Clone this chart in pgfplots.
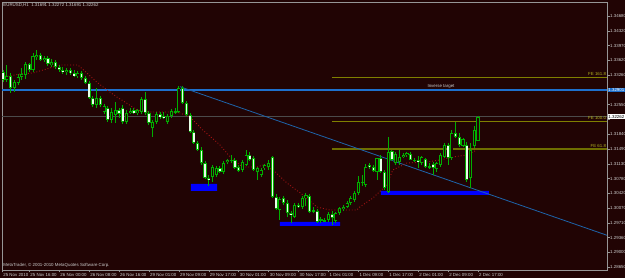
\documentclass[border=0pt]{standalone}
\usepackage{pgfplots}
\pgfplotsset{compat=1.18}
\usepackage{pgfplotstable}
\usepackage{fontspec}
\setmainfont{Liberation Sans}
\definecolor{bg}{RGB}{33,4,4}
\definecolor{axisgray}{RGB}{150,150,150}
\definecolor{cgreen}{RGB}{0,175,0}
\definecolor{bearfill}{RGB}{232,255,232}
\definecolor{trend}{RGB}{30,100,170}
\definecolor{invblue}{RGB}{30,112,205}
\definecolor{olive1}{RGB}{128,128,0}
\definecolor{olive2}{RGB}{110,110,0}
\definecolor{olivetext}{RGB}{175,175,30}
\definecolor{pricegray}{RGB}{75,75,75}
\definecolor{madot}{RGB}{165,20,20}
\definecolor{rectblue}{RGB}{0,0,255}
\definecolor{txt}{RGB}{205,205,205}
\newcommand{\mtfont}{\fontsize{4.4}{5}\selectfont}

\pgfplotstableread{
i O H L C
1 1.33336 1.33384 1.33096 1.33144
2 1.33144 1.33504 1.33096 1.33240
3 1.33240 1.33312 1.32832 1.32952
4 1.32952 1.33144 1.32856 1.33096
5 1.33072 1.33288 1.33024 1.33216
6 1.33216 1.33432 1.33144 1.33288
7 1.33264 1.33576 1.33168 1.33528
8 1.33528 1.33552 1.33336 1.33384
9 1.33384 1.33792 1.33336 1.33720
10 1.33696 1.33864 1.33624 1.33744
11 1.33744 1.33792 1.33600 1.33624
12 1.33624 1.33720 1.33576 1.33672
13 1.33672 1.33720 1.33480 1.33528
14 1.33504 1.33648 1.33456 1.33576
15 1.33576 1.33624 1.33408 1.33456
16 1.33456 1.33504 1.33336 1.33384
17 1.33384 1.33456 1.33288 1.33336
18 1.33336 1.33432 1.33264 1.33384
19 1.33384 1.33432 1.33264 1.33312
20 1.33312 1.33384 1.33216 1.33240
21 1.33240 1.33360 1.33192 1.33312
22 1.33312 1.33360 1.33144 1.33192
23 1.33192 1.33240 1.33048 1.33072
24 1.33072 1.33120 1.32688 1.32712
25 1.32712 1.32760 1.32496 1.32544
26 1.32544 1.32952 1.32472 1.32712
27 1.32712 1.32760 1.32496 1.32544
28 1.32376 1.32568 1.32328 1.32520
29 1.32472 1.32520 1.32136 1.32184
30 1.32184 1.32472 1.32112 1.32376
31 1.32304 1.32616 1.32112 1.32424
32 1.32424 1.32472 1.32232 1.32328
33 1.32472 1.32544 1.32088 1.32136
34 1.32136 1.32424 1.32088 1.32352
35 1.32352 1.32472 1.32328 1.32400
36 1.32424 1.32472 1.32328 1.32352
37 1.32352 1.32448 1.32304 1.32424
38 1.32376 1.32736 1.32328 1.32688
39 1.32688 1.32856 1.32304 1.32352
40 1.32352 1.32400 1.32064 1.32112
41 1.31992 1.32184 1.31776 1.32136
42 1.32136 1.32376 1.32088 1.32328
43 1.32328 1.32376 1.32208 1.32256
44 1.32280 1.32376 1.32208 1.32232
45 1.32136 1.32328 1.32088 1.32280
46 1.32280 1.32448 1.32232 1.32400
47 1.32400 1.32472 1.32328 1.32376
48 1.32376 1.33000 1.32352 1.32952
49 1.32952 1.33000 1.32568 1.32592
50 1.32592 1.32640 1.32280 1.32304
51 1.32304 1.32352 1.31872 1.31896
52 1.31896 1.31944 1.31608 1.31632
53 1.31632 1.31680 1.31440 1.31464
54 1.31464 1.31536 1.31104 1.31152
55 1.31152 1.31200 1.30768 1.30792
56 1.30792 1.30864 1.30600 1.30744
57 1.30816 1.31104 1.30696 1.31056
58 1.30864 1.31080 1.30816 1.31032
59 1.31032 1.31080 1.30912 1.30936
60 1.30936 1.31200 1.30888 1.31152
61 1.31176 1.31248 1.31128 1.31224
62 1.31200 1.31344 1.31152 1.31224
63 1.31224 1.31272 1.31008 1.31032
64 1.31056 1.31104 1.30936 1.30960
65 1.30984 1.31224 1.30936 1.31176
66 1.31104 1.31464 1.31080 1.31344
67 1.31344 1.31416 1.31200 1.31224
68 1.31272 1.31320 1.30960 1.30984
69 1.30936 1.31056 1.30744 1.31032
70 1.30864 1.31032 1.30816 1.30984
71 1.31032 1.31128 1.30984 1.31104
72 1.31056 1.31224 1.30984 1.31152
73 1.31296 1.31320 1.30312 1.30336
74 1.30336 1.30408 1.30024 1.30048
75 1.30024 1.30336 1.29784 1.30288
76 1.30312 1.30360 1.30144 1.30192
77 1.30192 1.30264 1.29856 1.29952
78 1.29952 1.30000 1.29712 1.29904
79 1.29856 1.30192 1.29832 1.30144
80 1.30144 1.30192 1.30072 1.30096
81 1.30096 1.30360 1.30048 1.30312
82 1.30312 1.30432 1.30120 1.30384
83 1.30360 1.30408 1.29952 1.29976
84 1.30024 1.30096 1.29952 1.30000
85 1.30000 1.30048 1.29712 1.29736
86 1.29784 1.29856 1.29712 1.29784
87 1.29784 1.29832 1.29736 1.29760
88 1.29784 1.29976 1.29736 1.29928
89 1.29928 1.30000 1.29664 1.29832
90 1.29760 1.29976 1.29712 1.29952
91 1.29952 1.30096 1.29904 1.30072
92 1.30048 1.30144 1.30000 1.30096
93 1.30096 1.30240 1.30072 1.30192
94 1.30192 1.30360 1.30144 1.30312
95 1.30264 1.30480 1.30216 1.30432
96 1.30432 1.30840 1.30384 1.30696
97 1.30696 1.30864 1.30600 1.30672
98 1.30624 1.31128 1.30576 1.31056
99 1.31104 1.31152 1.31008 1.31056
100 1.31056 1.31104 1.30936 1.30960
101 1.30936 1.31272 1.30744 1.31272
102 1.31272 1.31344 1.30912 1.30936
103 1.30936 1.30984 1.30504 1.30552
104 1.30456 1.31776 1.30432 1.31416
105 1.31440 1.31464 1.31200 1.31224
106 1.31152 1.31416 1.31104 1.31368
107 1.31176 1.31464 1.31104 1.31296
108 1.31296 1.31392 1.31272 1.31344
109 1.31344 1.31416 1.31296 1.31392
110 1.31368 1.31416 1.31224 1.31224
111 1.31224 1.31272 1.31176 1.31200
112 1.31224 1.31320 1.31032 1.31176
113 1.31152 1.31320 1.31104 1.31296
114 1.31248 1.31272 1.31032 1.31056
115 1.31080 1.31152 1.31008 1.31056
116 1.31128 1.31176 1.30864 1.31032
117 1.31008 1.31176 1.30936 1.31152
118 1.31104 1.31392 1.31056 1.31344
119 1.31296 1.31632 1.31272 1.31584
120 1.31584 1.31632 1.31104 1.31272
121 1.31272 1.31944 1.31224 1.31872
122 1.31872 1.32136 1.31752 1.31776
123 1.31776 1.31872 1.31536 1.31584
124 1.31560 1.31752 1.31536 1.31728
125 1.31584 1.31656 1.30696 1.30744
126 1.30792 1.31632 1.30552 1.31464
127 1.31560 1.32040 1.31512 1.31944
128 1.31691 1.32272 1.31691 1.32262
}\candles

\begin{document}
\begin{tikzpicture}
\useasboundingbox (0,0) rectangle (625pt,278pt);
\fill[bg] (0,0) rectangle (625pt,278pt);
\begin{axis}[
  at={(2pt,8pt)}, anchor=south west,
  scale only axis, width=605pt, height=268pt,
  xmin=0.7, xmax=162.5, ymin=1.28584, ymax=1.35016,
  clip=false,
  axis line style={draw=axisgray, line width=0.7pt},
  tick style={draw=axisgray, line width=0.5pt},
  tick align=outside, major tick length=2.5pt,
  xtick pos=left, ytick pos=right, yticklabel pos=right,
  xtick={0.75,8,16,24,32,40,48,56,64,72,80,88,96,104,112,120,128},
  xticklabels={25 Nov 2010,25 Nov 16:00,26 Nov 00:00,26 Nov 08:00,26 Nov 16:00,29 Nov 01:00,29 Nov 09:00,29 Nov 17:00,30 Nov 01:00,30 Nov 09:00,30 Nov 17:00,1 Dec 01:00,1 Dec 09:00,1 Dec 17:00,2 Dec 01:00,2 Dec 09:00,2 Dec 17:00},
  ytick={1.34680,1.34325,1.33970,1.33616,1.33261,1.32906,1.32552,1.32197,1.31842,1.31488,1.31133,1.30778,1.30424,1.30069,1.29714,1.29360,1.29005,1.28650},
  yticklabels={1.34680,1.34320,1.33970,1.33620,1.33260,,1.32550,,1.31840,1.31490,1.31130,1.30780,1.30420,1.30070,1.29710,1.29360,1.29000,1.28650},
  tick label style={font=\mtfont, text=txt},
  xticklabel style={anchor=north west, inner sep=0pt, xshift=1pt, yshift=-0.5pt},
  yticklabel style={anchor=west, inner sep=0pt, xshift=0.5pt},
]
% blue rectangles
\addplot[draw=none, fill=rectblue, forget plot] coordinates {(51.2,1.30648) (58.2,1.30648) (58.2,1.30480) (51.2,1.30480) (51.2,1.30648)};
\addplot[draw=none, fill=rectblue, forget plot] coordinates {(75.0,1.29736) (91.1,1.29736) (91.1,1.29640) (75.0,1.29640) (75.0,1.29736)};
\addplot[draw=none, fill=rectblue, forget plot] coordinates {(102.0,1.30480) (130.9,1.30480) (130.9,1.30384) (102.0,1.30384) (102.0,1.30480)};
% horizontal lines
\addplot[pricegray, line width=0.8pt, forget plot] coordinates {(0.7,1.32262) (162.5,1.32262)};
\addplot[olive1, line width=0.9pt, forget plot] coordinates {(88.9,1.33216) (162.5,1.33216)};
\addplot[olive1, line width=0.9pt, forget plot] coordinates {(88.9,1.32160) (162.5,1.32160)};
\addplot[olive2, line width=1.7pt, forget plot] coordinates {(88.9,1.31494) (162.5,1.31494)};
\addplot[invblue, line width=1.6pt, forget plot] coordinates {(0.7,1.32904) (162.5,1.32904)};
% trendline
\addplot[trend, line width=0.8pt, forget plot] coordinates {(48.3,1.32983) (162.5,1.29417)};
% moving average
\addplot[madot, line width=0.9pt, dotted, forget plot] coordinates {
(0.7,1.33240) (2.8,1.33240) (5.5,1.33288) (9,1.33312) (13.5,1.33432) (16.2,1.33504) (21,1.33504)
(23.4,1.33312) (26,1.33096) (28.8,1.32904) (31.4,1.32736) (34,1.32592) (36.8,1.32424) (40.3,1.32376)
(46.4,1.32376) (48.3,1.32352) (51,1.32256) (54.4,1.31944) (59,1.31584) (61.7,1.31296) (65.1,1.31056)
(68.9,1.31056) (70.5,1.31104) (73.2,1.30984) (76.9,1.30672) (81.2,1.30384) (84.9,1.30096) (88.4,1.30024)
(95.6,1.30024) (96.4,1.30096) (99.9,1.30312) (103.6,1.30624) (105.2,1.30984) (109,1.31152) (114.3,1.31176)
(117.8,1.31224) (121.3,1.31296) (125,1.31344) (127.7,1.31464)};
% wicks
\addplot[draw=none, mark=none, forget plot, error bars/.cd, y dir=both, y explicit, error mark=none,
  error bar style={draw=cgreen, line width=1pt}]
  table[x=i, y expr={(\thisrow{H}+\thisrow{L})/2}, y error expr={(\thisrow{H}-\thisrow{L})/2}] {\candles};
% body outlines
\addplot[draw=none, mark=none, forget plot, error bars/.cd, y dir=both, y explicit, error mark=none,
  error bar style={draw=cgreen, line width=3.1pt}]
  table[x=i, y expr={(\thisrow{O}+\thisrow{C})/2}, y error expr={max(abs(\thisrow{O}-\thisrow{C})/2,0.00012)}] {\candles};
% bear bodies
\addplot[draw=none, mark=none, forget plot, error bars/.cd, y dir=both, y explicit, error mark=none,
  error bar style={draw=bearfill, line width=1.5pt}]
  table[x=i, y expr={(\thisrow{O}+\thisrow{C})/2}, y error expr={ifthenelse(\thisrow{O}>\thisrow{C}, max((\thisrow{O}-\thisrow{C})/2-0.00019,0), 0)}] {\candles};
% bull bodies
\addplot[draw=none, mark=none, forget plot, error bars/.cd, y dir=both, y explicit, error mark=none,
  error bar style={draw=bg, line width=1.4pt}]
  table[x=i, y expr={(\thisrow{O}+\thisrow{C})/2}, y error expr={ifthenelse(\thisrow{C}>\thisrow{O}, max((\thisrow{C}-\thisrow{O})/2-0.00019,0), 0)}] {\candles};
% texts
\node[anchor=north west, inner sep=0pt, text=txt, font=\mtfont] at (rel axis cs:0,1) [xshift=1.2pt, yshift=-1.2pt] {EURUSD,H1\ \ 1.31691 1.32272 1.31691 1.32262};
\node[anchor=south west, inner sep=0pt, text=txt, font=\mtfont] at (rel axis cs:0,0) [xshift=1.2pt, yshift=2pt] {MetaTrader, © 2001-2010 MetaQuotes Software Corp.};
\node[anchor=south, inner sep=0pt, text=txt, font=\mtfont] at (axis cs:118.1,1.32904) [yshift=1.4pt] {Inverse target};
\node[anchor=south east, inner sep=0pt, text=olivetext, font=\mtfont] at (axis cs:162.3,1.33216) [yshift=0.8pt] {FE 161.8};
\node[anchor=south east, inner sep=0pt, text=olivetext, font=\mtfont] at (axis cs:162.3,1.32160) [yshift=0.8pt] {FE 100.0};
\node[anchor=south east, inner sep=0pt, text=olivetext, font=\mtfont] at (axis cs:162.3,1.31494) [yshift=1.2pt] {FE 61.8};
\node[anchor=west, inner xsep=0.6pt, inner ysep=0.8pt, fill=invblue, text=white, font=\mtfont] at (axis cs:162.5,1.32904) [xshift=0.6pt] {1.32901};
\node[anchor=west, inner xsep=0.6pt, inner ysep=0.8pt, fill=white, text=black, font=\mtfont] at (axis cs:162.5,1.32262) [xshift=0.6pt] {1.32262};
\end{axis}
\end{tikzpicture}
\end{document}
